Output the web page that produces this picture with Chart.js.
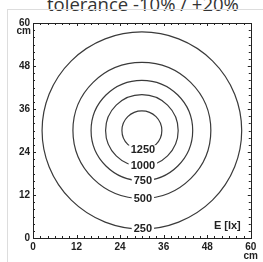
<!DOCTYPE html>
<html><head><meta charset="utf-8">
<script src="https://cdn.jsdelivr.net/npm/chart.js@4/dist/chart.umd.min.js"></script>
<style>
html,body{margin:0;padding:0;background:#fff;width:263px;height:262px;overflow:hidden;}
#title{position:absolute;left:47px;top:-5px;font:18.5px "Open Sans",sans-serif;line-height:18.5px;color:#333;white-space:nowrap;}
#frame{position:absolute;left:7px;top:9px;width:300px;height:300px;border:1px solid #ddd;}
#wrap{position:absolute;left:0;top:0;width:263px;height:262px;}
</style></head>
<body>
<div id="title">tolerance -10% / +20%</div>
<div id="frame"></div>
<div id="wrap"><canvas id="c" width="263" height="262"></canvas></div>
<script>
// contour levels (lx) and their radii (cm) around the centre
const levels = [250, 500, 750, 1000, 1250];
const radii = [27.5, 19, 14, 10, 5.5];
const centerX = 30, centerY = 30;
const tickValues = [0, 12, 24, 36, 48, 60];
const unitLabel = 'E [lx]';

const contourPlugin = {
  id: 'contours',
  afterDatasetsDraw(chart) {
    const ctx = chart.ctx, xs = chart.scales.x, ys = chart.scales.y;
    const a = chart.chartArea;
    ctx.save();
    chart.data.datasets.forEach(ds => {
      const p = ds.data[0];
      const cx = xs.getPixelForValue(p.x), cy = ys.getPixelForValue(p.y);
      const rx = xs.getPixelForValue(p.x + ds.radius) - cx;
      const ry = cy - ys.getPixelForValue(p.y + ds.radius);
      ctx.beginPath();
      ctx.ellipse(cx, cy, rx, ry, 0, 0, Math.PI * 2);
      ctx.strokeStyle = '#3a3a3a';
      ctx.lineWidth = 1.2;
      ctx.stroke();
    });
    ctx.font = 'bold 11px "Liberation Sans", Arial, sans-serif';
    ctx.textAlign = 'center';
    ctx.textBaseline = 'middle';
    chart.data.datasets.forEach(ds => {
      const p = ds.data[0];
      const lx = xs.getPixelForValue(p.x) + 1;
      const ly = ys.getPixelForValue(p.y - ds.radius);
      const t = String(ds.label);
      const w = ctx.measureText(t).width;
      ctx.fillStyle = '#fff';
      ctx.fillRect(lx - w / 2 - 2, ly - 5, w + 4, 10);
      ctx.fillStyle = '#222';
      ctx.fillText(t, lx, ly);
    });
    ctx.strokeStyle = '#222';
    ctx.lineWidth = 1;
    for (let v = 0; v <= 60; v += 2) {
      const len = (v % 12 === 0) ? 3 : 2;
      const px = Math.round(xs.getPixelForValue(v)) + 0.5;
      const py = Math.round(ys.getPixelForValue(v)) + 0.5;
      ctx.beginPath();
      ctx.moveTo(px, a.bottom); ctx.lineTo(px, a.bottom - len);
      ctx.moveTo(px, a.top); ctx.lineTo(px, a.top + len);
      ctx.moveTo(a.left, py); ctx.lineTo(a.left + len, py);
      ctx.moveTo(a.right, py); ctx.lineTo(a.right - len, py);
      ctx.stroke();
    }
    ctx.strokeRect(Math.round(a.left) + 0.5, Math.round(a.top) + 0.5,
      Math.round(a.right - a.left), Math.round(a.bottom - a.top));
    ctx.font = 'bold 11px "Liberation Sans", Arial, sans-serif';
    ctx.fillStyle = '#222';
    ctx.textAlign = 'right';
    ctx.textBaseline = 'middle';
    ctx.fillText(unitLabel, a.right - 10, a.bottom - 12);
    ctx.font = 'bold 10px "Liberation Sans", Arial, sans-serif';
    ctx.fillText('cm', a.left - 2, ys.getPixelForValue(60) + 8);
    ctx.restore();
  }
};

const datasets = levels.map((lv, i) => ({
  label: lv,
  radius: radii[i],
  data: [{x: centerX, y: centerY}],
  pointRadius: 0,
  showLine: false
}));

const tickFont = {family: '"Liberation Sans", Arial, sans-serif', size: 10, weight: 'bold', lineHeight: 0.9};

new Chart(document.getElementById('c'), {
  type: 'scatter',
  data: {datasets},
  options: {
    responsive: false,
    animation: false,
    events: [],
    layout: {padding: {top: 23, right: 7, left: 0, bottom: 0}},
    plugins: {legend: {display: false}, tooltip: {enabled: false}, title: {display: false}},
    scales: {
      x: {
        type: 'linear', min: 0, max: 60,
        afterBuildTicks: s => { s.ticks = tickValues.map(v => ({value: v})); },
        afterFit: s => { s.height = 24; },
        grid: {display: false, drawTicks: false},
        border: {display: false},
        ticks: {
          font: tickFont, color: '#222', padding: 5, maxRotation: 0, autoSkip: false,
          callback: v => v === 60 ? ['60', 'cm'] : String(v)
        }
      },
      y: {
        type: 'linear', min: 0, max: 60,
        afterBuildTicks: s => { s.ticks = tickValues.map(v => ({value: v})); },
        afterFit: s => { s.width = 33; },
        grid: {display: false, drawTicks: false},
        border: {display: false},
        ticks: {font: {family: '"Liberation Sans", Arial, sans-serif', size: 10, weight: 'bold'}, color: '#222', padding: 3, autoSkip: false, callback: v => String(v)}
      }
    }
  },
  plugins: [contourPlugin]
});
</script>
</body></html>
